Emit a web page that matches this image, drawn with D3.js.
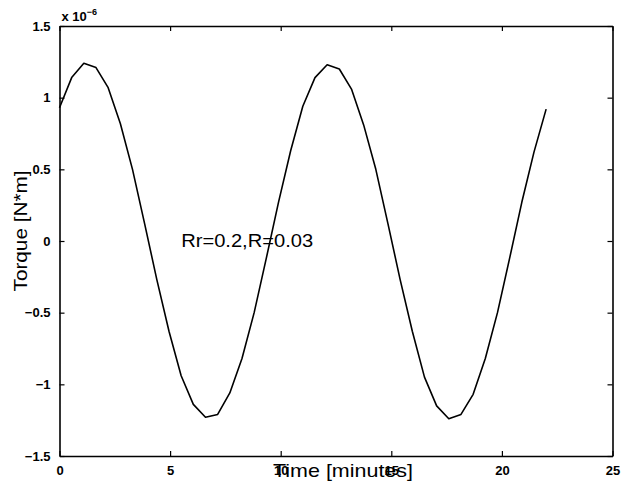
<!DOCTYPE html>
<html>
<head>
<meta charset="utf-8">
<script src="https://cdn.jsdelivr.net/npm/d3@7"></script>
<style>
  body { margin: 0; background: #fff; }
  svg { display: block; font-family: "Liberation Sans", Arial, sans-serif; }
</style>
</head>
<body>
<svg></svg>
<script>
// time in minutes, torque in units of 1e-6 N*m
const time = [0, 0.55, 1.10, 1.65, 2.20, 2.75, 3.30, 3.85, 4.40, 4.95,
  5.50, 6.05, 6.60, 7.15, 7.70, 8.25, 8.80, 9.35, 9.90, 10.45,
  11.00, 11.55, 12.10, 12.65, 13.20, 13.75, 14.30, 14.85, 15.40, 15.95,
  16.50, 17.05, 17.60, 18.15, 18.70, 19.25, 19.80, 20.35, 20.90, 21.45, 22.00];
const torque = [0.93, 1.14, 1.24, 1.21, 1.07, 0.82, 0.50, 0.12, -0.27, -0.63,
  -0.94, -1.14, -1.23, -1.21, -1.06, -0.82, -0.50, -0.12, 0.27, 0.63,
  0.94, 1.14, 1.23, 1.20, 1.06, 0.81, 0.50, 0.12, -0.27, -0.63,
  -0.95, -1.15, -1.24, -1.21, -1.07, -0.82, -0.50, -0.12, 0.27, 0.62, 0.92];
const xTicks = [0, 5, 10, 15, 20, 25];
const yTicks = [-1.5, -1, -0.5, 0, 0.5, 1, 1.5];
const note = "Rr=0.2,R=0.03";

let width = 624;
let height = 493;
let plotLeft = 59.5, plotRight = 612.5, plotTop = 26, plotBottom = 456;

const svg = d3.select("svg")
  .attr("width", width)
  .attr("height", height);

const xScale = d3.scaleLinear().domain([0, 25]).range([plotLeft, plotRight]);
const yScale = d3.scaleLinear().domain([-1.5, 1.5]).range([plotBottom, plotTop]);

const fmt = (d) => String(d).replace("-", "\u2212");

// bottom + top axes (ticks pointing inward)
svg.append("g")
  .attr("transform", `translate(0, ${plotBottom})`)
  .call(d3.axisBottom(xScale).tickValues(xTicks).tickFormat(fmt).tickSizeInner(-5).tickSizeOuter(0).tickPadding(10));
svg.append("g")
  .attr("transform", `translate(0, ${plotTop})`)
  .call(d3.axisTop(xScale).tickValues(xTicks).tickFormat("").tickSizeInner(-5).tickSizeOuter(0));

// left + right axes
svg.append("g")
  .attr("transform", `translate(${plotLeft}, 0)`)
  .call(d3.axisLeft(yScale).tickValues(yTicks).tickFormat(fmt).tickSizeInner(-5).tickSizeOuter(0).tickPadding(9));
svg.append("g")
  .attr("transform", `translate(${plotRight}, 0)`)
  .call(d3.axisRight(yScale).tickValues(yTicks).tickFormat("").tickSizeInner(-5).tickSizeOuter(0));

svg.selectAll(".domain").attr("stroke", "#000").attr("stroke-width", 1.6);
svg.selectAll(".tick line").attr("stroke", "#000").attr("stroke-width", 1.2);
svg.selectAll(".tick text")
  .attr("fill", "#000")
  .style("font-size", "13px")
  .style("font-weight", "bold");

// curve
const line = d3.line()
  .x((d, i) => xScale(time[i]))
  .y((d) => yScale(d));

svg.append("path")
  .datum(torque)
  .attr("fill", "none")
  .attr("stroke", "#000")
  .attr("stroke-width", 1.6)
  .attr("stroke-linejoin", "round")
  .attr("d", line);

// exponent label
const expo = svg.append("text")
  .attr("x", plotLeft + 2)
  .attr("y", 21)
  .style("font-size", "13px")
  .style("font-weight", "bold");
expo.append("tspan").text("x 10");
expo.append("tspan").attr("dy", -6).style("font-size", "9px").text("\u22126");

// annotation
svg.append("text")
  .attr("x", xScale(5.5))
  .attr("y", 247)
  .attr("textLength", 132)
  .attr("lengthAdjust", "spacingAndGlyphs")
  .style("font-size", "18px")
  .text(note);

// axis labels
svg.append("text")
  .attr("x", (plotLeft + plotRight) / 2 + 7)
  .attr("y", 477)
  .attr("text-anchor", "middle")
  .attr("textLength", 140)
  .attr("lengthAdjust", "spacingAndGlyphs")
  .style("font-size", "19px")
  .text("Time [minutes]");

svg.append("text")
  .attr("transform", "translate(27, 231) rotate(-90)")
  .attr("text-anchor", "middle")
  .attr("textLength", 121)
  .attr("lengthAdjust", "spacingAndGlyphs")
  .style("font-size", "18px")
  .text("Torque [N*m]");
</script>
</body>
</html>
